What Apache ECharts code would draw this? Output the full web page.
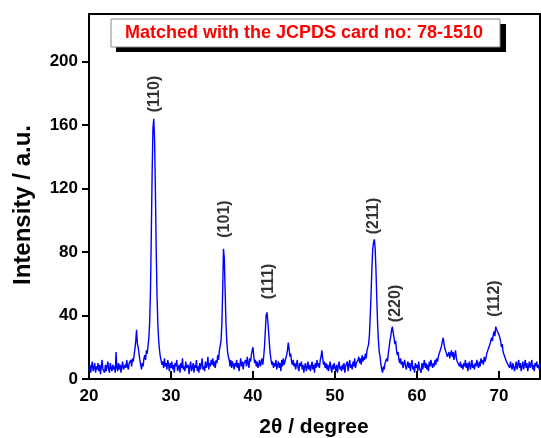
<!DOCTYPE html>
<html>
<head>
<meta charset="utf-8">
<script src="https://cdn.jsdelivr.net/npm/echarts@6/dist/echarts.min.js"></script>
<style>html,body{margin:0;padding:0;background:#fff;}#c{width:541px;height:438px;}</style>
</head>
<body>
<div id="c"></div>
<script>
// 2θ sampling grid
const thetaStart = 20.0;
const thetaStep = 0.1;
const intensity = [
 6,9,4,8,11,5,7,10,4,8,
 6,10,5,9,3,8,12,6,7,4,
 9,5,8,11,6,4,10,7,5,9,
 6,8,4,17,7,5,10,6,9,4,
 8,11,6,5,9,7,12,8,6,10,
 9,12,8,13,11,15,19,24,31,22,
 20,16,12,9,6,10,8,13,15,12,
 18,16,21,26,36,56,92,130,158,164,
 150,118,80,52,34,24,18,14,15,9,
 11,7,13,8,10,6,12,9,5,10,
 7,11,6,9,4,10,8,12,5,7,
 9,4,10,7,13,6,8,5,11,7,
 6,9,3,8,11,5,7,10,4,9,
 7,12,5,8,4,10,6,9,13,6,
 8,5,11,7,9,14,6,10,8,12,
 9,13,8,11,7,12,10,15,12,18,
 18,24,34,55,82,76,56,36,24,17,
 14,12,8,12,7,11,9,6,10,8,
 12,7,10,5,9,13,8,11,6,10,
 9,12,8,14,10,7,13,11,15,18,
 20,14,10,12,8,11,7,9,12,8,
 10,13,9,14,20,30,40,42,37,30,
 22,16,12,9,11,7,10,8,12,6,
 9,11,7,10,5,12,8,13,9,11,
 12,15,18,23,19,14,16,11,9,12,
 8,10,6,9,12,7,5,10,8,11,
 6,9,4,8,10,5,7,11,6,9,
 5,8,11,6,9,4,10,7,12,8,
 10,7,12,14,18,13,9,11,7,10,
 6,9,5,8,11,7,4,9,6,10,
 7,5,9,4,8,11,6,8,5,9,
 6,10,4,8,7,11,5,9,12,7,
 9,6,11,8,13,7,10,9,12,14,
 10,13,9,15,11,14,12,16,13,18,
 18,22,28,40,54,70,82,86,88,82,
 68,50,34,24,17,14,9,6,4,8,
 6,10,9,13,11,16,20,24,27,31,
 33,29,26,22,24,18,15,17,12,10,
 13,9,11,7,10,12,8,6,9,11,
 7,10,5,9,12,6,8,4,10,7,
 9,5,11,7,8,4,10,6,9,12,
 7,10,6,9,5,11,8,12,9,7,
 10,8,12,9,13,11,14,16,15,19,
 21,24,26,22,19,20,16,14,15,17,
 13,16,18,14,17,12,15,18,13,11,
 10,12,8,11,7,9,6,10,8,12,
 7,10,5,9,11,6,8,12,7,9,
 6,10,8,12,9,7,11,8,13,10,
 12,9,14,11,13,16,15,19,18,22,
 21,26,24,28,30,27,33,34,30,31,
 28,26,24,20,22,17,18,14,15,11,
 12,9,10,7,11,8,6,10,9,5,
 8,11,6,9,12,7,10,5,8,11,
 6,9,12,7,10,5,8,11,7,9,
 12,6,9,5,10,8,11,7,9,6,
 10
];
// Peak (hkl) labels and label-centre positions (data coords)
const peakLabels = ['(110)','(101)','(111)','(211)','(220)','(112)'];
const peakX = [28.0, 36.5, 41.9, 54.76, 57.38, 69.45];
const peakY = [179.6, 100.8, 61.5, 102.7, 47.6, 50.7];

const xMin = 20, xMax = 75, xInterval = 10;
const yMin = 0, yMax = 230, yInterval = 40;
const xTitle = '2\u03B8 / degree';
const yTitle = 'Intensity / a.u.';
const boxText = 'Matched with the JCPDS card no: 78-1510';

const lineData = intensity.map((v, i) => [+(thetaStart + i * thetaStep).toFixed(2), v]);
const labelData = peakLabels.map((t, i) => ({ name: t, value: [peakX[i], peakY[i]] }));

const FONT = '"Liberation Sans", Arial, sans-serif';
const chart = echarts.init(document.getElementById('c'), null, { renderer: 'canvas' });
chart.setOption({
  animation: false,
  backgroundColor: '#fff',
  grid: { left: 89, right: 1, top: 14, bottom: 59, show: true, borderColor: '#000', borderWidth: 2, backgroundColor: 'transparent' },
  xAxis: {
    type: 'value', min: xMin, max: xMax, interval: xInterval,
    axisLine: { show: true, lineStyle: { color: '#000', width: 2 } },
    axisTick: { show: true, inside: true, length: 8, lineStyle: { color: '#000', width: 2 } },
    axisLabel: { color: '#000', fontFamily: FONT, fontWeight: 'bold', fontSize: 17, margin: 9, showMaxLabel: false },
    splitLine: { show: false }
  },
  yAxis: {
    type: 'value', min: yMin, max: yMax, interval: yInterval,
    axisLine: { show: true, lineStyle: { color: '#000', width: 2 } },
    axisTick: { show: true, inside: false, length: 7, lineStyle: { color: '#000', width: 2 } },
    axisLabel: { color: '#000', fontFamily: FONT, fontWeight: 'bold', fontSize: 17, margin: 11, showMaxLabel: false },
    splitLine: { show: false }
  },
  series: [
    {
      type: 'line', data: lineData, showSymbol: false, symbol: 'none',
      lineStyle: { color: '#0000ff', width: 1.4 }, clip: true, z: 2
    },
    {
      type: 'scatter', data: labelData, symbolSize: 0, z: 3,
      label: {
        show: true, formatter: '{b}', position: 'inside', rotate: 90,
        color: '#000', fontFamily: FONT, fontWeight: 'bold', fontSize: 16,
        align: 'center', verticalAlign: 'middle'
      }
    }
  ],
  graphic: [
    { type: 'rect', shape: { x: 116, y: 24, width: 390, height: 28 }, style: { fill: '#000' }, z: 10 },
    { type: 'rect', shape: { x: 111, y: 19, width: 389, height: 28 }, style: { fill: '#fff', stroke: '#888', lineWidth: 1 }, z: 11 },
    { type: 'text', x: 304, y: 33, z: 12, style: { text: boxText, fill: '#ff0000', font: 'bold 18px ' + FONT, textAlign: 'center', textVerticalAlign: 'middle' } },
    { type: 'text', x: 314, y: 427, z: 12, style: { text: xTitle, fill: '#000', font: 'bold 21px ' + FONT, textAlign: 'center', textVerticalAlign: 'middle' } },
    { type: 'text', x: 23, y: 205, rotation: Math.PI / 2, z: 12, style: { text: yTitle, fill: '#000', font: 'bold 24px ' + FONT, textAlign: 'center', textVerticalAlign: 'middle' } }
  ]
});
</script>
</body>
</html>
